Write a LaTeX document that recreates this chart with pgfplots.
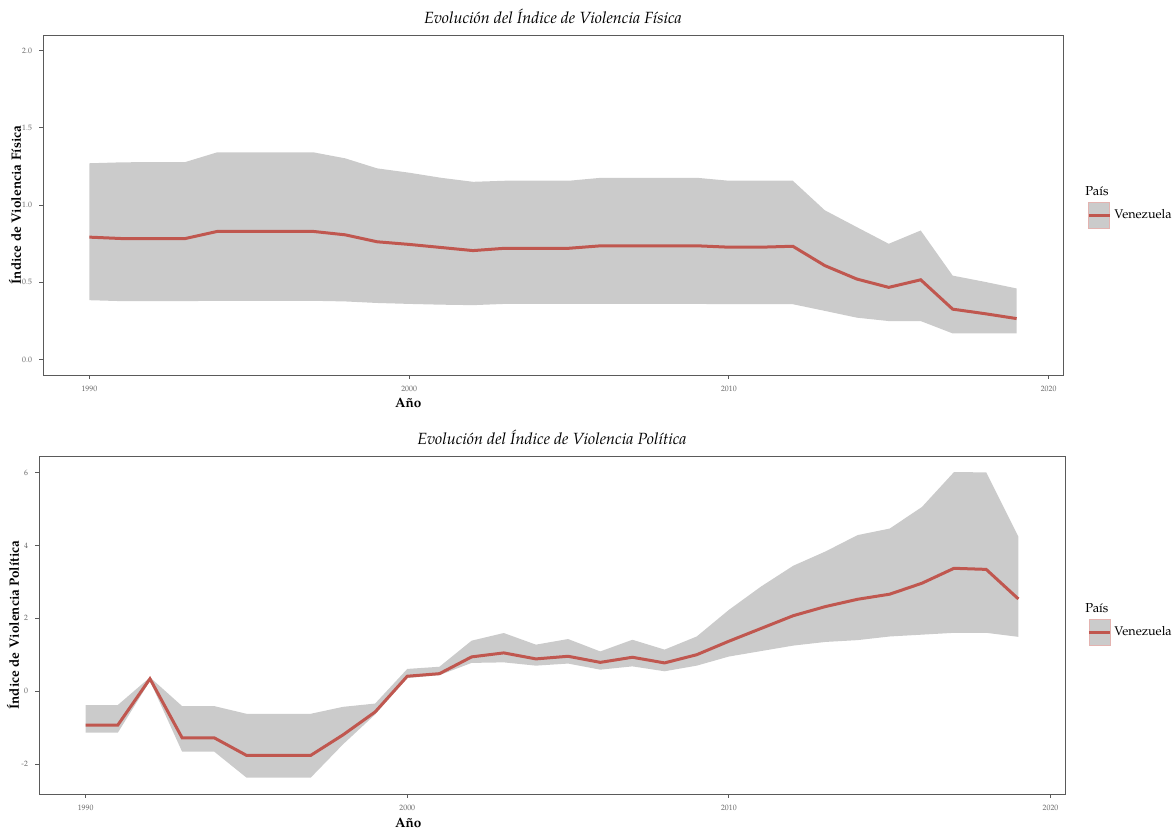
\documentclass[border=0pt]{standalone}
\usepackage{fontspec}
\setmainfont{TeX Gyre Pagella}
\usepackage{pgfplots}
\pgfplotsset{compat=1.18}
\usepackage{pgfplotstable}
\usepgfplotslibrary{fillbetween}
\definecolor{band}{HTML}{CBCBCB}
\definecolor{vline}{HTML}{C0574F}
\definecolor{frame}{HTML}{5A5A5A}

\pgfplotstableread{
year lo mean hi
1990 0.384 0.792 1.270
1991 0.378 0.783 1.276
1992 0.378 0.783 1.278
1993 0.378 0.783 1.278
1994 0.380 0.829 1.341
1995 0.380 0.829 1.341
1996 0.380 0.829 1.341
1997 0.380 0.829 1.341
1998 0.376 0.807 1.302
1999 0.366 0.762 1.237
2000 0.360 0.745 1.209
2001 0.355 0.725 1.176
2002 0.352 0.705 1.150
2003 0.360 0.720 1.157
2004 0.360 0.720 1.157
2005 0.360 0.720 1.157
2006 0.360 0.736 1.176
2007 0.360 0.736 1.176
2008 0.360 0.736 1.176
2009 0.360 0.736 1.176
2010 0.358 0.727 1.157
2011 0.358 0.727 1.157
2012 0.358 0.733 1.157
2013 0.315 0.608 0.966
2014 0.271 0.521 0.857
2015 0.249 0.467 0.749
2016 0.249 0.516 0.835
2017 0.169 0.326 0.543
2018 0.169 0.297 0.503
2019 0.169 0.265 0.460
}\fisica

\pgfplotstableread{
year lo mean hi
1990 -1.14 -0.93 -0.38
1991 -1.14 -0.93 -0.38
1992 0.28 0.34 0.38
1993 -1.66 -1.28 -0.41
1994 -1.66 -1.28 -0.41
1995 -2.37 -1.76 -0.62
1996 -2.37 -1.76 -0.62
1997 -2.37 -1.76 -0.62
1998 -1.46 -1.20 -0.43
1999 -0.64 -0.57 -0.34
2000 0.36 0.41 0.61
2001 0.44 0.48 0.67
2002 0.775 0.94 1.385
2003 0.79 1.05 1.595
2004 0.70 0.885 1.276
2005 0.757 0.957 1.43
2006 0.59 0.79 1.09
2007 0.68 0.93 1.41
2008 0.546 0.775 1.14
2009 0.70 1.00 1.50
2010 0.95 1.37 2.23
2011 1.10 1.72 2.87
2012 1.25 2.07 3.44
2013 1.35 2.32 3.83
2014 1.40 2.52 4.28
2015 1.50 2.66 4.46
2016 1.55 2.96 5.05
2017 1.60 3.37 6.01
2018 1.60 3.34 6.00
2019 1.49 2.53 4.24
}\politica

\pgfplotsset{
 refstyle/.style={
  scale only axis,
  clip mode=individual,
  xmin=1988.55, xmax=2020.45,
  xtick={1990,2000,2010,2020},
  tick align=outside, xtick pos=bottom, ytick pos=left,
  major tick length=2pt,
  axis line style={draw=frame, line width=0.45pt},
  every tick/.style={draw=frame, line width=0.4pt},
  tick label style={font=\fontsize{3.9}{4}\selectfont, text=black!60},
  /pgf/number format/assume math mode=true,
  /pgf/number format/1000 sep={},
  every axis title shift=0pt,
  title style={font=\fontsize{8.1}{9}\selectfont\itshape, at={(axis description cs:0.5,1.056)}, anchor=center},
  ylabel style={font=\fontsize{6.75}{8}\selectfont\bfseries, at={(axis description cs:-0.0275,0.5)}, anchor=center},
  legend style={draw=none, fill=none, inner sep=0pt, font=\fontsize{6.3}{7}\selectfont, nodes={inner sep=1.5pt}},
  legend cell align=left,
  legend image code/.code={%
    \draw[draw=vline!45, fill=band, line width=0.4pt] (0pt,-6.5pt) rectangle (10.5pt,6.5pt);
    \draw[vline, line width=1.5pt] (0pt,0pt) -- (10.5pt,0pt);},
 }
}

\begin{document}
\begin{tikzpicture}
\path (0,0) rectangle (587.5pt,415pt);

\begin{axis}[refstyle,
  at={(21.5pt,227.5pt)}, anchor=south west,
  width=510pt, height=170pt,
  ymin=-0.1, ymax=2.1,
  ytick={0,0.5,1,1.5,2},
  yticklabel style={/pgf/number format/fixed, /pgf/number format/fixed zerofill, /pgf/number format/precision=1},
  title={Evolución del Índice de Violencia Física},
  xlabel={Año},
  xlabel style={font=\fontsize{6.75}{8}\selectfont\bfseries, at={(axis description cs:0.358,-0.0824)}, anchor=center},
  ylabel={Índice de Violencia Física},
  legend style={at={(axis description cs:1.0235,0.468)}, anchor=west},
]
\addplot[name path=up, draw=none, forget plot] table[x=year,y=hi]{\fisica};
\addplot[name path=lo, draw=none, forget plot] table[x=year,y=lo]{\fisica};
\addplot[band, forget plot] fill between[of=up and lo];
\addplot[vline, line width=1.5pt] table[x=year,y=mean]{\fisica};
\addlegendentry{Venezuela}
\node[anchor=west, font=\fontsize{6.5}{7}\selectfont, inner sep=0pt] at (axis description cs:1.0216,0.541) {País};
\end{axis}

\begin{axis}[refstyle,
  at={(19.5pt,18pt)}, anchor=south west,
  width=513pt, height=169pt,
  ymin=-2.82, ymax=6.45,
  ytick={-2,0,2,4,6},
  title={Evolución del Índice de Violencia Política},
  xlabel={Año},
  xlabel style={font=\fontsize{6.75}{8}\selectfont\bfseries, at={(axis description cs:0.36,-0.0858)}, anchor=center},
  ylabel={Índice de Violencia Política},
  ylabel style={at={(axis description cs:-0.0253,0.5)}},
  legend style={at={(axis description cs:1.0215,0.479)}, anchor=west},
]
\addplot[name path=up, draw=none, forget plot] table[x=year,y=hi]{\politica};
\addplot[name path=lo, draw=none, forget plot] table[x=year,y=lo]{\politica};
\addplot[band, forget plot] fill between[of=up and lo];
\addplot[vline, line width=1.5pt] table[x=year,y=mean]{\politica};
\addlegendentry{Venezuela}
\node[anchor=west, font=\fontsize{6.5}{7}\selectfont, inner sep=0pt] at (axis description cs:1.0195,0.550) {País};
\end{axis}
\end{tikzpicture}
\end{document}
